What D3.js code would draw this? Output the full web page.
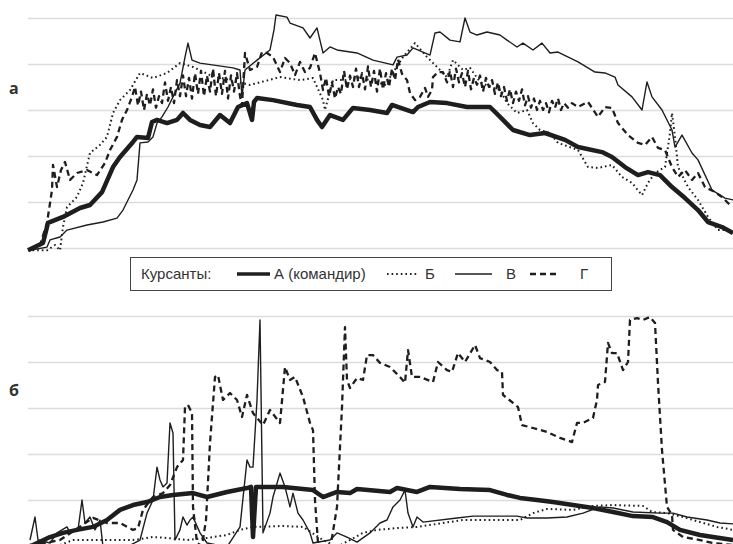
<!DOCTYPE html>
<html>
<head>
<meta charset="utf-8">
<script src="https://cdn.jsdelivr.net/npm/d3@7"></script>
<style>
  body { margin: 0; background: #fff; }
  svg { display: block; }
  .grid line { stroke: #dcdcdc; stroke-width: 1.5; }
  .grid .domain { display: none; }
  .panelLabel { font-family: "Open Sans", "Noto Sans", sans-serif; font-weight: bold; font-size: 16px; fill: #333; }
  .legendText { font-family: "Liberation Sans", Arial, sans-serif; font-size: 15px; fill: #333; }
</style>
</head>
<body>
<div id="chart"></div>
<script>
// panel "а" (top) and "б" (bottom), four cadets each: [time, value]
var topA = [[0,-1],[15,2.2],[20,10.9],[35,13.5],[52,17.4],[62,18.7],[74,24.3],[85,35.2],[92,39.6],[105,46.1],[109,48.3],[120,47.8],[124,54.8],[129,55.7],[139,54.3],[149,55.7],[155,58.7],[162,55.7],[172,53.5],[182,52.6],[192,57.8],[202,54.3],[210,61.3],[219,63],[224,55.7],[226,63.5],[229,65.2],[245,64.3],[269,62.2],[282,61.3],[289,55.7],[294,52.6],[302,57.8],[315,55.7],[325,60.9],[342,60],[359,58.7],[364,62.2],[385,59.1],[390,61.3],[402,63.5],[419,63],[439,61.3],[462,61.3],[472,57],[485,51.3],[502,49.1],[517,50],[537,47],[550,43.9],[574,41.7],[584,39.6],[597,35.2],[610,31.7],[620,33],[632,31.7],[644,26.5],[657,21.7],[670,16.5],[680,11.3],[694,9.1],[705,6.5]];

var topB = [[0,-1],[19,-1],[27,1.3],[32,-1],[35,9.1],[39,17.8],[49,22.2],[55,28.3],[62,41.3],[72,44.8],[79,48.3],[85,58.7],[92,64.3],[102,68.7],[112,76.1],[125,73.9],[139,76.1],[152,80.4],[165,78.7],[182,75.2],[202,73],[222,70.9],[252,74.3],[272,73],[285,73.9],[295,64.3],[297,60],[305,73],[319,73],[329,74.3],[342,73],[357,70.9],[375,83],[387,89.1],[399,83],[404,80.9],[419,74.3],[425,81.7],[435,77.4],[442,78.3],[452,72.2],[462,70],[472,68.7],[479,63],[489,58.7],[499,60],[505,54.3],[512,51.3],[522,50],[530,45.7],[550,42.6],[560,35.2],[570,34.8],[584,36.1],[594,30.9],[604,28.3],[614,23],[620,28.3],[627,32.6],[637,35.2],[642,50],[644,58.7],[647,48.3],[650,35.2],[660,26.5],[670,20.9],[680,13.5],[690,7.8],[700,7.8],[705,6.5]];

var topV = [[2,-1],[19,0.4],[22,3.5],[32,4.8],[39,7.8],[59,10],[75,11.3],[89,13],[95,16.5],[105,25.2],[109,29.6],[112,45.7],[120,46.1],[125,48.3],[129,54.3],[134,57],[140,61.3],[145,65.7],[152,71.7],[157,83],[160,89.1],[164,81.7],[172,80.4],[205,78.3],[212,77.4],[214,65.7],[217,77.4],[229,81.7],[242,86.1],[246,94.8],[248,101.3],[259,100.4],[262,97.8],[275,95.7],[282,91.3],[289,95.7],[295,84.8],[302,87.4],[309,86.1],[329,84.8],[345,81.7],[365,79.6],[369,83],[379,83.9],[385,87],[402,83.9],[407,93.5],[412,93.9],[422,90.4],[432,89.6],[437,100],[442,93.9],[449,92.6],[459,93.9],[472,92.6],[479,90.4],[489,87.4],[495,89.1],[505,86.1],[514,89.1],[522,84.8],[530,85.2],[550,80.9],[567,76.5],[577,76.1],[587,74.3],[590,70.9],[604,65.7],[614,60],[619,72.2],[624,65.7],[634,60],[644,51.3],[647,43.9],[654,49.1],[664,41.3],[670,38.3],[684,25.2],[697,21.7],[705,20.9]];

var topG = [[2,-1],[12,1.3],[19,10.9],[24,25.2],[25,36.1],[29,26.5],[33,33.9],[37,37.4],[42,29.6],[49,32.6],[59,33.9],[69,31.7],[77,37],[82,42.6],[89,48.3],[94,55.7],[99,60],[104,65.7],
  [107,70],[110,62],[113,68],[116,60],[119,67],[122,62],[125,69],[128,61],[131,66],[134,63],[137,72],[140,64],[143,70],[146,63],[149,73],[152,66],[155,75],[158,66],[161,74],[164,65],[167,76],[170,67],[173,77],[176,66],[179,75],[182,68],[185,78],[188,66],[191,76],[194,67],[197,77],[200,65],[203,75],[206,68],[209,76],[212,66],[214,62],
  [217,84.8],[222,77.4],[229,78.7],[234,85.2],[239,84.8],[245,83],[252,76.5],[257,82.6],[262,80.4],[267,75.2],[272,80.9],[277,76.5],[282,78.3],[287,84.8],[292,76.1],
  [295,68.7],[298,74],[301,66],[304,72],[307,65],[310,70],[313,67],[316,77],[319,69],[322,75],[325,70],[328,78],[331,70],[334,76],[337,69],[340,79],[343,70],[346,77],[349,68],[352,78],[355,69],[358,76],[361,70],[364,78],[367,73],[370,82],
  [374,75.7],[379,73],[382,67.4],[387,64.3],[392,65.7],[397,69.6],[400,65.7],[404,68.7],[405,74.3],[410,76.5],[415,76.5],
  [419,72],[422,77],[425,70],[428,78],[431,72],[434,76],[437,70],[440,77],[443,69],[446,74],[449,71],[452,75],[455,68],[458,74],[461,70],[464,73],[467,67],[470,72],[473,66],[476,70],[479,64],[482,69],[485,63],[488,68],[491,64],[494,69],[497,62],[500,66],[503,61],[506,65],[509,60],[512,64],[515,60],[518,63],[521,59],[524,64],[527,61],[530,65],[533,60],[536,63],[540,61],[544,63],
  [550,61.3],[560,63.5],[570,57],[577,61.3],[584,60.9],[590,54.3],[600,49.1],[610,45.7],[617,44.8],[624,48.3],[630,43.5],[637,42.6],[644,35.2],[650,30.9],[657,33.9],[664,29.6],[670,32.6],[677,26.5],[687,24.3],[694,22.2],[704,17.8]];

var botA = [[2,0],[5,0.4],[22,3.9],[35,5.7],[49,7],[65,8.3],[79,11.3],[92,15.7],[105,17.8],[119,19.1],[132,21.3],[145,22.2],[165,23],[179,21.3],[199,23.5],[219,25.2],[223,25.7],[225,3.9],[228,25.7],[255,25.7],[285,24.3],[295,21.3],[309,23.5],[322,23],[329,24.8],[362,23.5],[369,25.2],[389,23.5],[402,25.7],[432,24.8],[462,24.3],[479,22.2],[492,20.9],[509,20],[525,19.1],[545,17.8],[565,16.5],[585,14.8],[605,13],[625,12.6],[639,10.4],[652,7],[672,4.8],[685,3.9],[705,2.6]];

var botB = [[0,-1],[32,0.4],[45,2.6],[105,2.6],[125,3.9],[139,3.5],[159,2.6],[179,3.5],[199,4.8],[212,7],[225,8.3],[255,8.7],[275,8.3],[295,2.6],[309,-0.4],[322,2.6],[335,5.7],[349,7],[369,7.8],[389,8.3],[415,10],[435,11.3],[492,11.3],[505,14.3],[519,16.1],[545,15.7],[565,17.4],[585,17.8],[615,17.4],[624,14.8],[639,14.3],[655,12.6],[672,10.4],[689,8.3],[705,7]];

var botV = [[2,2.6],[7,12.6],[10,2.6],[22,1.3],[29,5.7],[39,8.3],[42,5.7],[50,7],[54,20],[57,10],[62,12.6],[67,7],[72,11.3],[75,-0.4],[92,-2],[112,2.6],[119,14.3],[125,20],[129,34.3],[132,28.7],[135,25.7],[139,27.4],[142,53.5],[145,49.1],[147,2.6],[152,7],[155,12.6],[159,9.1],[162,11.3],[165,12.6],[172,5.7],[179,1.3],[199,-0.4],[212,8.3],[219,37.4],[222,34.3],[225,34.3],[229,63.5],[232,98.3],[235,5.7],[242,14.3],[245,21.3],[252,31.7],[257,25.7],[262,17],[265,23],[270,14.3],[275,11.3],[282,5.7],[285,1.3],[302,2.6],[309,5.7],[319,3.9],[329,1.7],[342,5.7],[352,10],[359,11.3],[365,17],[372,20],[377,24.3],[380,14.3],[385,8.3],[389,12.6],[395,10.4],[429,12.2],[445,13],[489,13],[499,12.2],[519,12.2],[539,12.6],[555,14.3],[572,17],[585,16.5],[605,14.8],[632,14.3],[645,14.3],[659,12.6],[679,11.3],[692,10],[705,9.6]];

var botG = [[2,0],[32,2.6],[65,12.2],[79,10],[92,10],[105,7],[110,7.8],[115,15.7],[125,21.3],[135,23],[142,26.5],[149,34.3],[155,37.4],[157,60.4],[160,61.3],[164,57.8],[165,17],[169,1.3],[174,0],[178,11.3],[182,44.8],[187,73.5],[190,74.3],[195,63.5],[202,66.5],[209,63.5],[214,56.1],[219,65.7],[225,57.8],[235,52.6],[242,59.1],[252,53.5],[257,77.8],[262,72.2],[267,73.5],[275,64.8],[282,53.5],[285,50.4],[287,20],[290,1.3],[302,-1.7],[309,17],[314,60.4],[317,95.2],[319,72.2],[322,68.7],[329,73],[335,72.2],[339,83],[345,83],[352,79.6],[362,77.8],[372,73.5],[377,70.9],[380,85.2],[384,73.5],[392,73.5],[405,71.3],[410,80],[419,76.5],[424,75.7],[430,83.9],[437,80],[447,87.4],[452,81.7],[462,80],[469,76.5],[474,75.7],[475,65.7],[485,62.2],[490,60.4],[494,52.6],[505,51.3],[519,49.6],[532,47],[544,45.2],[549,53.5],[555,53.5],[565,55.7],[569,63.5],[570,70],[577,71.3],[580,88.3],[584,83.9],[589,83.9],[595,76.5],[600,80],[602,98.3],[609,99.1],[615,98.3],[622,99.6],[627,97],[630,70.9],[634,41.7],[639,17],[644,13.5],[645,7],[655,3.9],[672,2.6],[685,1.3],[705,0.4]];

var gridTicks = [0, 20, 40, 60, 80, 100];
var legendLabels = ["А (командир)", "Б", "В", "Г"];

var svgWidth = 733;
var svgHeight = 544;

var svg = d3.select("#chart")
  .append("svg")
  .attr("width", svgWidth)
  .attr("height", svgHeight);

var x = d3.scaleLinear().domain([0, 705]).range([28, 733]);
var yTop = d3.scaleLinear().domain([0, 100]).range([248, 18]);
var yBot = d3.scaleLinear().domain([0, 100]).range([546, 316]);

// line styles for А, Б, В, Г
var styles = [
  { width: 4.5, dash: null },
  { width: 2, dash: "1.6,3" },
  { width: 1.4, dash: null },
  { width: 2.3, dash: "6,4" }
];

function drawPanel(yScale, series, label, labelY) {
  var g = svg.append("g");

  g.append("g")
    .attr("class", "grid")
    .attr("transform", "translate(28,0)")
    .call(d3.axisRight(yScale).tickValues(gridTicks).tickSize(705).tickFormat(""));

  var line = d3.line()
    .x(d => x(d[0]))
    .y(d => yScale(d[1]));

  // draw А last so the thick line is on top
  [1, 2, 3, 0].forEach(function(i) {
    g.append("path")
      .datum(series[i])
      .attr("d", line)
      .attr("fill", "none")
      .attr("stroke", "#1e1e1e")
      .attr("stroke-width", styles[i].width)
      .attr("stroke-linejoin", "round")
      .attr("stroke-dasharray", styles[i].dash);
  });

  g.append("text")
    .attr("class", "panelLabel")
    .attr("x", 9)
    .attr("y", labelY)
    .text(label);
}

drawPanel(yTop, [topA, topB, topV, topG], "а", 94);
drawPanel(yBot, [botA, botB, botV, botG], "б", 396);

// legend
var legend = svg.append("g");
legend.append("rect")
  .attr("x", 130.5)
  .attr("y", 257.5)
  .attr("width", 481)
  .attr("height", 33)
  .attr("fill", "#fff")
  .attr("stroke", "#444")
  .attr("stroke-width", 1);

legend.append("text")
  .attr("class", "legendText")
  .attr("x", 141)
  .attr("y", 279)
  .text("Курсанты:");

var legendItems = [
  { x1: 237, x2: 270, tx: 274 },
  { x1: 387, x2: 417, tx: 425 },
  { x1: 455, x2: 492, tx: 506 },
  { x1: 530, x2: 556, tx: 580 }
];

legendItems.forEach(function(it, i) {
  legend.append("line")
    .attr("x1", it.x1).attr("x2", it.x2)
    .attr("y1", 274).attr("y2", 274)
    .attr("stroke", "#1e1e1e")
    .attr("stroke-width", i === 0 ? 3.5 : styles[i].width)
    .attr("stroke-dasharray", styles[i].dash);
  legend.append("text")
    .attr("class", "legendText")
    .attr("x", it.tx)
    .attr("y", 279)
    .text(legendLabels[i]);
});
</script>
</body>
</html>
